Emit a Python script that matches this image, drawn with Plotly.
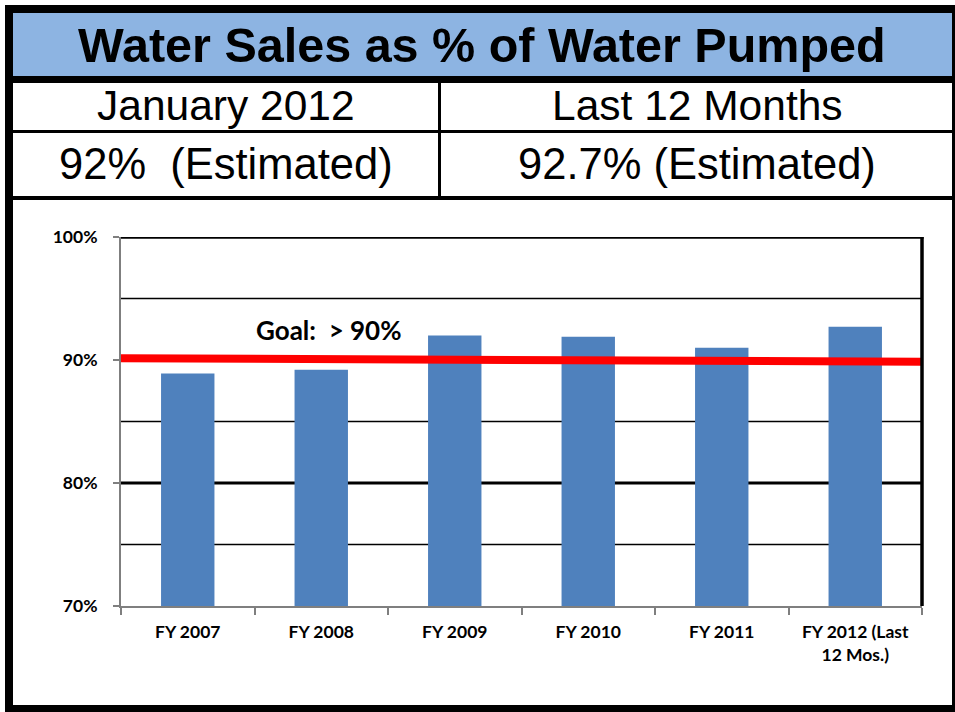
import plotly.graph_objects as go

# ---- data ----
categories = ["FY 2007", "FY 2008", "FY 2009", "FY 2010", "FY 2011", "FY 2012 (Last<br>12 Mos.)"]
sales_pct = [88.9, 89.2, 92.0, 91.9, 91.0, 92.7]
goal_x = [-0.5, 5.5]
goal_y = [90.15, 89.85]
y_tick_vals = [70, 80, 90, 100]
y_tick_text = ["70%", "80%", "90%", "100%"]
title_text = "Water Sales as % of Water Pumped"
header_left = "January 2012"
header_right = "Last 12 Months"
value_left = "92%\u00a0 (Estimated)"
value_right = "92.7% (Estimated)"
goal_text = "Goal:\u00a0 > 90%"

W, H = 955, 712


def px(x):
    return x / W


def py(y):
    return 1 - y / H


fig = go.Figure()
fig.add_trace(go.Bar(x=categories, y=sales_pct, marker=dict(color="#4F81BD", line=dict(width=0)),
                     width=0.4, showlegend=False, hoverinfo="y"))
fig.add_trace(go.Scatter(x=goal_x, y=goal_y, mode="lines", line=dict(color="#FF0000", width=8),
                         showlegend=False, cliponaxis=False, hoverinfo="skip", xaxis="x2"))

shapes = []
# gridlines (below bars)
for g, w in [(75, 1.5), (80, 3), (85, 1.5), (95, 1.5)]:
    shapes.append(dict(type="line", xref="x domain", yref="y", x0=0, x1=1, y0=g, y1=g,
                       line=dict(color="black", width=w), layer="below"))
# frame top & right
shapes.append(dict(type="line", xref="x domain", yref="y", x0=0, x1=1.002, y0=100, y1=100,
                   line=dict(color="black", width=3.5), layer="above"))
shapes.append(dict(type="line", xref="x domain", yref="y", x0=1, x1=1, y0=70, y1=100,
                   line=dict(color="black", width=3.5), layer="above"))

# header table
def rect(x0, y0, x1, y1, color):
    shapes.append(dict(type="rect", xref="paper", yref="paper", x0=px(x0), x1=px(x1),
                       y0=py(y1), y1=py(y0), fillcolor=color, line=dict(width=0), layer="above"))

rect(13, 13, 952, 76, "#8DB4E2")
rect(13, 76, 952, 83, "black")
rect(13, 130, 952, 133, "black")
rect(13, 196, 952, 200, "black")
rect(438, 80, 441, 197, "black")
# outer border
rect(5, 5, 13, 712, "black")
rect(5, 5, 955, 13, "black")
rect(5, 705, 955, 712, "black")
rect(952, 5, 955, 712, "black")

annotations = []

def text(x, y, s, size, bold=False, family="Liberation Sans"):
    annotations.append(dict(x=px(x), y=py(y), xref="paper", yref="paper", text=s, showarrow=False,
                            xanchor="center", yanchor="middle",
                            font=dict(family=family, size=size, color="black",
                                      weight="bold" if bold else "normal")))

text(482, 45, title_text, 48.5, bold=True)
text(226, 106, header_left, 42.5)
text(697, 106, header_right, 42.5)
text(226, 164, value_left, 43.5)
text(697, 164, value_right, 43.5)
text(329, 330, goal_text, 26, bold=True, family="Lato")

tickfont = dict(family="Lato", size=17.5, color="black", weight="bold")

fig.update_layout(
    width=W, height=H,
    margin=dict(l=0, r=0, t=0, b=0),
    paper_bgcolor="white", plot_bgcolor="white",
    shapes=shapes, annotations=annotations,
    bargap=0.6,
    xaxis=dict(domain=[121 / W, 922 / W], range=[-0.5, 5.5], type="category",
               showline=True, linecolor="#7F7F7F", linewidth=2, showgrid=False,
               ticks="outside", tickson="boundaries", ticklen=7, tickcolor="#7F7F7F", tickwidth=1.5,
               tickfont=tickfont, ticklabelstandoff=9, automargin=False, fixedrange=True),
    xaxis2=dict(overlaying="x", range=[-0.5, 5.5], visible=False, domain=[121 / W, 922 / W],
                anchor="y"),
    yaxis=dict(domain=[1 - 606 / H, 1 - 237 / H], range=[70, 100],
               tickvals=y_tick_vals, ticktext=y_tick_text,
               showline=True, linecolor="#7F7F7F", linewidth=2, showgrid=False, zeroline=False,
               ticks="outside", ticklen=6, tickcolor="#7F7F7F", tickwidth=1.5,
               tickfont=tickfont, ticklabelstandoff=12, automargin=False, fixedrange=True),
)

fig.write_html("out.html", config={"displayModeBar": False},
               post_script="document.body.style.margin='0px';document.body.style.overflow='hidden';")
